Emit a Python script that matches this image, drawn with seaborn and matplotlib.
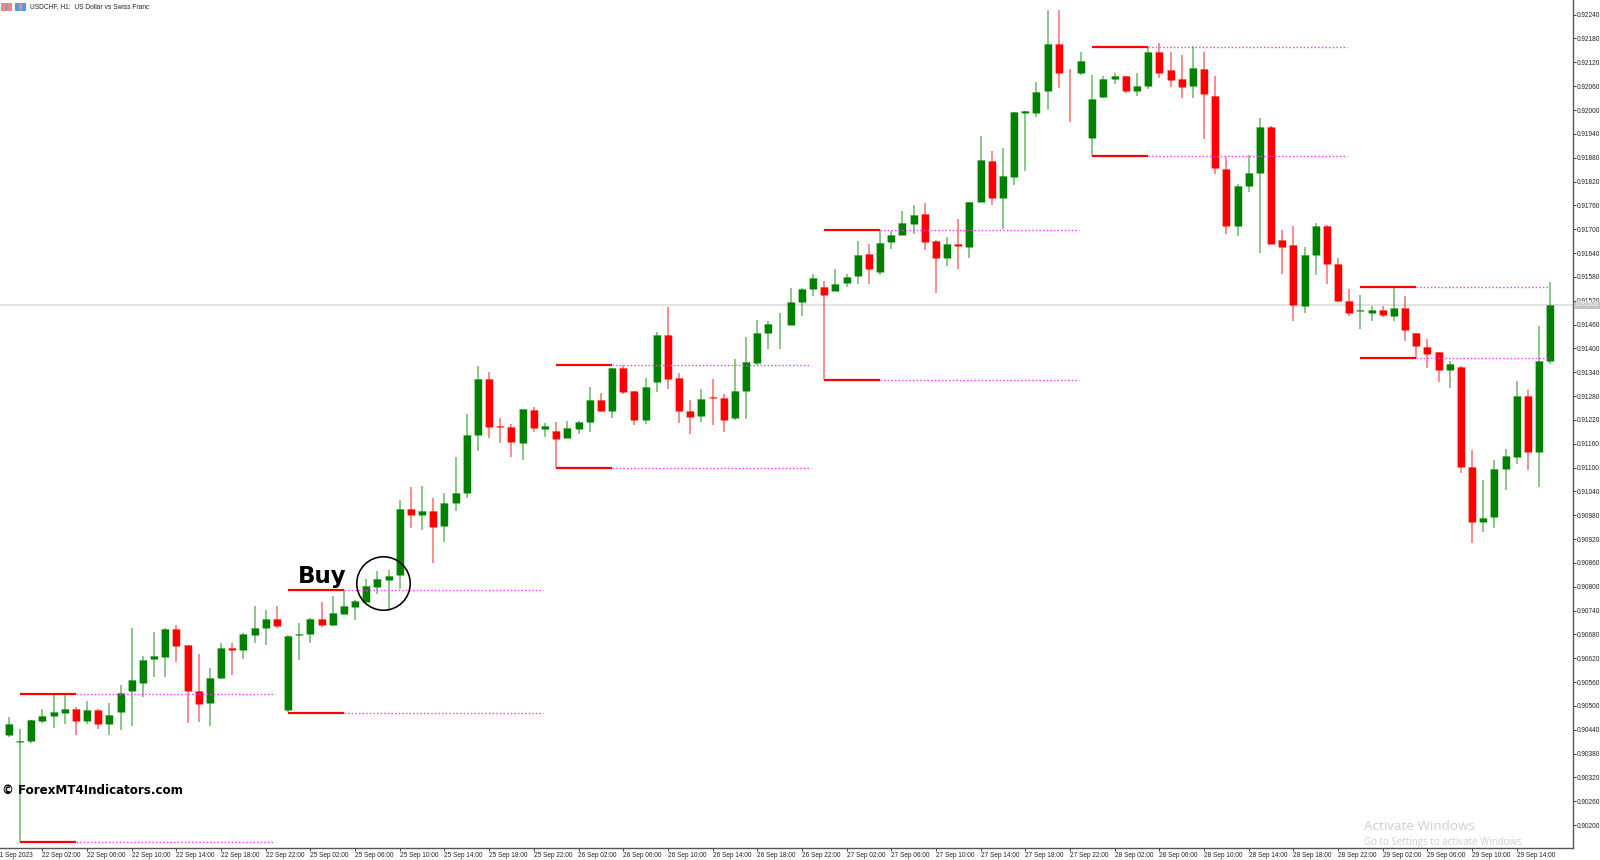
import numpy as np
import pandas as pd
import matplotlib
matplotlib.use("Agg")
import matplotlib.pyplot as plt
from matplotlib.patches import Rectangle
import seaborn as sns

# Hourly USDCHF candles, 21 Sep 22:00 to 29 Sep 15:00 (weekend skipped)
opens = [
 0.90393,0.90427,0.90409,0.90412,0.90462,0.90476,0.90482,0.90492,0.90462,0.90489,
 0.90454,0.90484,0.90538,0.90558,0.90617,0.90624,0.90693,0.90653,0.90538,0.90507,
 0.90570,0.90645,0.90641,0.90679,0.90695,0.90719,0.90491,0.90679,0.90681,0.90719,
 0.90704,0.90732,0.90750,0.90762,0.90800,0.90818,0.90829,0.90995,0.90980,0.90990,
 0.90954,0.91012,0.91036,0.91182,0.91324,0.91205,0.91202,0.91163,0.91245,0.91198,
 0.91192,0.91175,0.91196,0.91214,0.91271,0.91242,0.91351,0.91292,0.91221,0.91316,
 0.91434,0.91325,0.91242,0.91231,0.91278,0.91274,0.91224,0.91293,0.91362,0.91439,
 0.91463,0.91460,0.91516,0.91550,0.91554,0.91545,0.91565,0.91581,0.91637,0.91593,
 0.91669,0.91685,0.91713,0.91738,0.91670,0.91628,0.91664,0.91656,0.91768,0.91872,
 0.91779,0.91832,0.91993,0.91992,0.92049,0.92165,0.92094,0.92092,0.91930,0.92033,
 0.92077,0.92085,0.92049,0.92060,0.92146,0.92100,0.92079,0.92061,0.92104,0.92035,
 0.91852,0.91709,0.91810,0.91841,0.91958,0.91672,0.91659,0.91507,0.91636,0.91709,
 0.91613,0.91520,0.91495,0.91490,0.91497,0.91482,0.91502,0.91440,0.91404,0.91390,
 0.91346,0.91353,0.91101,0.90962,0.90976,0.91096,0.91127,0.91279,0.91140,0.91369,
]
closes = [
 0.90429,0.90454,0.90413,0.90464,0.90476,0.90484,0.90492,0.90461,0.90490,0.90455,
 0.90478,0.90532,0.90565,0.90616,0.90626,0.90694,0.90651,0.90537,0.90505,0.90570,
 0.90645,0.90640,0.90680,0.90695,0.90719,0.90701,0.90677,0.90682,0.90719,0.90704,
 0.90733,0.90751,0.90763,0.90801,0.90819,0.90828,0.90995,0.90981,0.90990,0.90950,
 0.91012,0.91037,0.91183,0.91324,0.91203,0.91201,0.91164,0.91247,0.91200,0.91204,
 0.91171,0.91199,0.91215,0.91271,0.91242,0.91350,0.91289,0.91221,0.91304,0.91433,
 0.91324,0.91243,0.91228,0.91273,0.91275,0.91221,0.91294,0.91366,0.91440,0.91462,
 0.91465,0.91517,0.91550,0.91578,0.91535,0.91563,0.91580,0.91634,0.91601,0.91666,
 0.91685,0.91715,0.91737,0.91669,0.91628,0.91664,0.91657,0.91768,0.91873,0.91779,
 0.91833,0.91995,0.91997,0.92045,0.92165,0.92092,0.92092,0.92123,0.92028,0.92077,
 0.92085,0.92049,0.92060,0.92146,0.92094,0.92075,0.92058,0.92107,0.92040,0.91853,
 0.91709,0.91810,0.91842,0.91958,0.91662,0.91656,0.91509,0.91636,0.91708,0.91613,
 0.91519,0.91490,0.91497,0.91497,0.91484,0.91502,0.91447,0.91406,0.91386,0.91346,
 0.91360,0.91101,0.90964,0.90973,0.91096,0.91128,0.91279,0.91138,0.91369,0.91509,
]
highs = [
 0.90436,0.90473,0.90443,0.90465,0.90492,0.90529,0.90529,0.90497,0.90513,0.90492,
 0.90507,0.90552,0.90695,0.90625,0.90686,0.90695,0.90704,0.90653,0.90630,0.90595,
 0.90659,0.90658,0.90683,0.90752,0.90741,0.90752,0.90679,0.90710,0.90722,0.90762,
 0.90776,0.90792,0.90767,0.90820,0.90840,0.90842,0.91018,0.91052,0.91054,0.91023,
 0.91035,0.91127,0.91236,0.91356,0.91340,0.91224,0.91209,0.91247,0.91253,0.91211,
 0.91215,0.91217,0.91218,0.91303,0.91287,0.91351,0.91358,0.91293,0.91325,0.91441,
 0.91505,0.91338,0.91270,0.91298,0.91322,0.91284,0.91373,0.91428,0.91471,0.91468,
 0.91489,0.91551,0.91551,0.91587,0.91570,0.91600,0.91587,0.91670,0.91663,0.91698,
 0.91695,0.91746,0.91760,0.91767,0.91673,0.91680,0.91726,0.91768,0.91935,0.91897,
 0.91904,0.91995,0.91998,0.92070,0.92252,0.92252,0.92102,0.92145,0.92088,0.92086,
 0.92094,0.92086,0.92093,0.92158,0.92168,0.92146,0.92138,0.92162,0.92146,0.92086,
 0.91881,0.91815,0.91888,0.91981,0.91960,0.91698,0.91708,0.91656,0.91715,0.91710,
 0.91627,0.91550,0.91534,0.91507,0.91507,0.91555,0.91532,0.91440,0.91424,0.91392,
 0.91369,0.91355,0.91144,0.91069,0.91119,0.91146,0.91319,0.91295,0.91457,0.91568,
]
lows = [
 0.90389,0.90421,0.90158,0.90408,0.90458,0.90444,0.90455,0.90427,0.90455,0.90442,
 0.90426,0.90440,0.90450,0.90523,0.90572,0.90572,0.90611,0.90456,0.90460,0.90449,
 0.90567,0.90577,0.90617,0.90658,0.90653,0.90697,0.90486,0.90616,0.90659,0.90700,
 0.90702,0.90732,0.90717,0.90762,0.90782,0.90740,0.90794,0.90949,0.90943,0.90859,
 0.90913,0.90991,0.91024,0.91143,0.91175,0.91163,0.91126,0.91119,0.91190,0.91178,
 0.91098,0.91174,0.91185,0.91189,0.91241,0.91226,0.91284,0.91208,0.91210,0.91291,
 0.91298,0.91211,0.91185,0.91215,0.91206,0.91190,0.91219,0.91222,0.91358,0.91399,
 0.91399,0.91459,0.91482,0.91533,0.91320,0.91545,0.91555,0.91562,0.91563,0.91584,
 0.91651,0.91685,0.91689,0.91648,0.91540,0.91607,0.91599,0.91628,0.91768,0.91762,
 0.91700,0.91811,0.91847,0.91983,0.91999,0.92055,0.91970,0.92089,0.91883,0.92031,
 0.92066,0.92044,0.92036,0.92052,0.92081,0.92059,0.92029,0.92029,0.91928,0.91840,
 0.91688,0.91683,0.91794,0.91641,0.91662,0.91586,0.91470,0.91490,0.91585,0.91561,
 0.91517,0.91481,0.91450,0.91470,0.91480,0.91469,0.91419,0.91377,0.91351,0.91316,
 0.91301,0.91087,0.90909,0.90938,0.90949,0.91043,0.91109,0.91094,0.91052,0.91361,
]
first_hour = -2  # candle index of 21 Sep 22:00; 22 Sep 00:00 is index 0

# Indicator levels
level_starts = [0, 24, 48, 72, 96, 120]
level_highs = [0.90529, 0.90793, 0.91357, 0.91698, 0.92158, 0.91555]
level_lows = [0.90158, 0.90483, 0.91098, 0.91320, 0.91883, 0.91377]
level_solid_hours = [5, 5, 5, 5, 5, 5]
level_dotted_hours = [17.8, 17.8, 17.8, 17.8, 17.8, 11.9]

last_price = 0.91509
buy_point = (32.5, 0.90810)

x_tick_hours = list(range(2, 135, 4))
x_tick_labels = [
 "22 Sep 02:00", "22 Sep 06:00", "22 Sep 10:00", "22 Sep 14:00", "22 Sep 18:00", "22 Sep 22:00",
 "25 Sep 02:00", "25 Sep 06:00", "25 Sep 10:00", "25 Sep 14:00", "25 Sep 18:00", "25 Sep 22:00",
 "26 Sep 02:00", "26 Sep 06:00", "26 Sep 10:00", "26 Sep 14:00", "26 Sep 18:00", "26 Sep 22:00",
 "27 Sep 02:00", "27 Sep 06:00", "27 Sep 10:00", "27 Sep 14:00", "27 Sep 18:00", "27 Sep 22:00",
 "28 Sep 02:00", "28 Sep 06:00", "28 Sep 10:00", "28 Sep 14:00", "28 Sep 18:00", "28 Sep 22:00",
 "29 Sep 02:00", "29 Sep 06:00", "29 Sep 10:00", "29 Sep 14:00",
]
y_ticks = np.arange(90200, 92241, 60) / 100000

GREEN, RED = "#008000", "#ff0000"
MAGENTA = "#ff3cff"

sns.set_theme(style="white")
plt.rcParams["font.family"] = ["Liberation Sans", "DejaVu Sans"]

W, H = 1600, 860
fig = plt.figure(figsize=(W / 100, H / 100), dpi=100, facecolor="white")
ax = fig.add_axes([0, 1 - 848 / H, 1573 / W, 848 / H])
PX = 11.17
ax.set_xlim((0 - 20) / PX, (1573 - 20) / PX)
ax.set_ylim(0.901425, 0.922769)

df = pd.DataFrame({"open": opens, "close": closes, "high": highs, "low": lows})
df["hour"] = np.arange(len(df)) + first_hour
df["dir"] = np.where(df["close"] >= df["open"], "up", "down")
palette = {"up": GREEN, "down": RED}

wicks = df.melt(id_vars=["hour", "dir"], value_vars=["low", "high"], value_name="price")
bodies = df.melt(id_vars=["hour", "dir"], value_vars=["open", "close"], value_name="price")

# last-price line under everything
ax.axhline(last_price, color="#e2e2e2", lw=1.5, zorder=1)

sns.lineplot(data=wicks, x="hour", y="price", hue="dir", units="hour", estimator=None,
             palette=palette, legend=False, lw=1.15, alpha=0.55, ax=ax, zorder=2,
             solid_capstyle="butt")
sns.lineplot(data=bodies, x="hour", y="price", hue="dir", units="hour", estimator=None,
             palette=palette, legend=False, lw=6.0, alpha=0.25, ax=ax, zorder=3,
             solid_capstyle="butt")
sns.lineplot(data=bodies, x="hour", y="price", hue="dir", units="hour", estimator=None,
             palette=palette, legend=False, lw=5.3, ax=ax, zorder=4,
             solid_capstyle="butt")

for s, hi, lo, a, b in zip(level_starts, level_highs, level_lows, level_solid_hours, level_dotted_hours):
    for lev in (hi, lo):
        sns.lineplot(x=[s + a, s + a + b], y=[lev, lev], color=MAGENTA, lw=1.0, ax=ax, zorder=5,
                     linestyle=(0, (1.1, 1.5)), estimator=None)
        sns.lineplot(x=[s, s + a], y=[lev, lev], color=RED, lw=1.6, ax=ax, zorder=5,
                     estimator=None, solid_capstyle="butt")

# signal circle
ax.plot([buy_point[0]], [buy_point[1]], marker="o", ms=38.5, mfc="none", mec="black", mew=1.15,
        zorder=6, clip_on=False)

ax.set_xlabel("")
ax.set_ylabel("")
for s in ("top", "left"):
    ax.spines[s].set_visible(False)
for s in ("right", "bottom"):
    ax.spines[s].set_color("#555555")
    ax.spines[s].set_linewidth(1.0)

ax.yaxis.tick_right()
ax.set_yticks(y_ticks)
ax.set_yticklabels([f"{t:.5f}" for t in y_ticks])
ax.tick_params(axis="y", right=True, length=2, width=0.7, color="#444444", labelsize=4.7,
               labelcolor="#222222", pad=0.6)
ax.set_xticks(x_tick_hours)
ax.set_xticklabels(x_tick_labels)
ax.tick_params(axis="x", bottom=True, length=2.2, width=0.7, color="#444444", labelsize=4.7,
               labelcolor="#222222", pad=0.8)
for lab in ax.get_xticklabels():
    lab.set_ha("left")


def fx(x):
    return x / W


def fy(y):
    return 1 - y / H


# date label clipped by the left edge
fig.text(fx(-3.5), fy(855.5), "21 Sep 2023", fontsize=4.7, color="#222222", va="center", ha="left")

# title and icons
fig.text(fx(30), fy(7), "USDCHF, H1:  US Dollar vs Swiss Franc", fontsize=4.8, color="#222222",
         va="center", ha="left")
for x0, c1, c2 in ((1, "#f08a80", "#6aa8e0"), (15, "#5a9ad8", "#f08a80")):
    fig.add_artist(Rectangle((fx(x0), fy(11)), 11 / W, 8 / H, transform=fig.transFigure,
                             facecolor=c1, edgecolor="none"))
    fig.add_artist(Rectangle((fx(x0 + 4), fy(10)), 3 / W, 6 / H, transform=fig.transFigure,
                             facecolor=c2, edgecolor="none"))

# price box on the axis
fig.add_artist(Rectangle((fx(1574), fy(308.5)), 26 / W, 7 / H, transform=fig.transFigure,
                         facecolor="#c4c4c4", edgecolor="none", zorder=5))
fig.text(fx(1576), fy(305), f"{last_price:.5f}", fontsize=4.7, color="white", va="center", ha="left",
         zorder=6)

# annotations
fig.text(fx(298), fy(577), "Buy", fontsize=16.5, fontweight="bold", family="DejaVu Sans",
         color="black", va="center", ha="left")
fig.text(fx(2), fy(790.5), "\u00a9 ForexMT4Indicators.com", fontsize=8.6, fontweight="bold",
         family="DejaVu Sans", color="black", va="center", ha="left")
fig.text(fx(1364), fy(827), "Activate Windows", fontsize=9.7, family="Open Sans", color="#cfcfcf",
         va="center", ha="left")
fig.text(fx(1364), fy(842), "Go to Settings to activate Windows.", fontsize=7.0, family="Open Sans",
         color="#cfcfcf", va="center", ha="left")

assert len(opens) == len(closes) == len(highs) == len(lows) == 140
fig.savefig("out.png", dpi=100)
